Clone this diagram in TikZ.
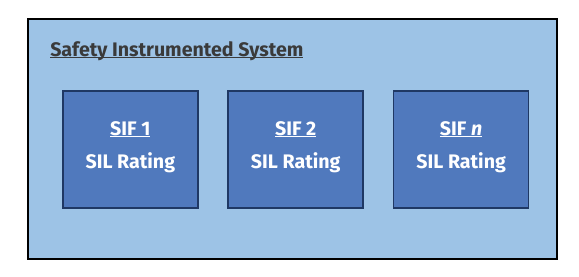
\documentclass[tikz,border=0pt]{standalone}
\usepackage{fontspec}
\setmainfont{Fira Sans}
\usetikzlibrary{positioning}
\definecolor{sisBlue}{HTML}{9DC3E6}
\definecolor{sifBlue}{HTML}{5079BD}
\definecolor{sifEdge}{HTML}{1F3864}
\definecolor{titleGray}{HTML}{3A3A3A}
\newcommand{\lowpad}{\rule[-7pt]{0pt}{0pt}}
\newsavebox{\ulinbox}
\newcommand{\ulin}[1]{\sbox{\ulinbox}{#1}\rlap{\rule[-1.8pt]{\wd\ulinbox}{0.9pt}}\usebox{\ulinbox}}
\tikzset{
  sisBox/.style={rectangle, draw=black, fill=sisBlue, line width=1.5pt,
                 minimum width=396.75pt, minimum height=180pt, inner sep=0pt},
  sifBox/.style={rectangle, draw=sifEdge, fill=sifBlue, line width=1.2pt,
                 minimum width=101.25pt, minimum height=87.75pt, inner sep=0pt,
                 align=center, text=white,
                 font=\fontsize{14.7}{24.75}\selectfont\bfseries},
  titleText/.style={font=\fontsize{14.7}{18}\selectfont\bfseries,
                    text=titleGray, inner sep=0pt},
}
\begin{document}
\begin{tikzpicture}[x=0.75pt, y=-0.75pt, node distance=21.6pt]
  \useasboundingbox (0,0) rectangle (579,276);
  \node[sisBox, anchor=north west] (sys) at (27,18) {};
  \node[titleText, anchor=base west] (title) at (50,56) {\ulin{Safety Instrumented System}};
  \node[sifBox, anchor=north west] (sif1) at (62,90) {\ulin{SIF 1}\\SIL Rating\lowpad};
  \node[sifBox, right=of sif1] (sif2) {\ulin{SIF 2}\\SIL Rating\lowpad};
  \node[sifBox, right=of sif2] (sifn) {\ulin{SIF \textit{n}}\\SIL Rating\lowpad};
\end{tikzpicture}
\end{document}
